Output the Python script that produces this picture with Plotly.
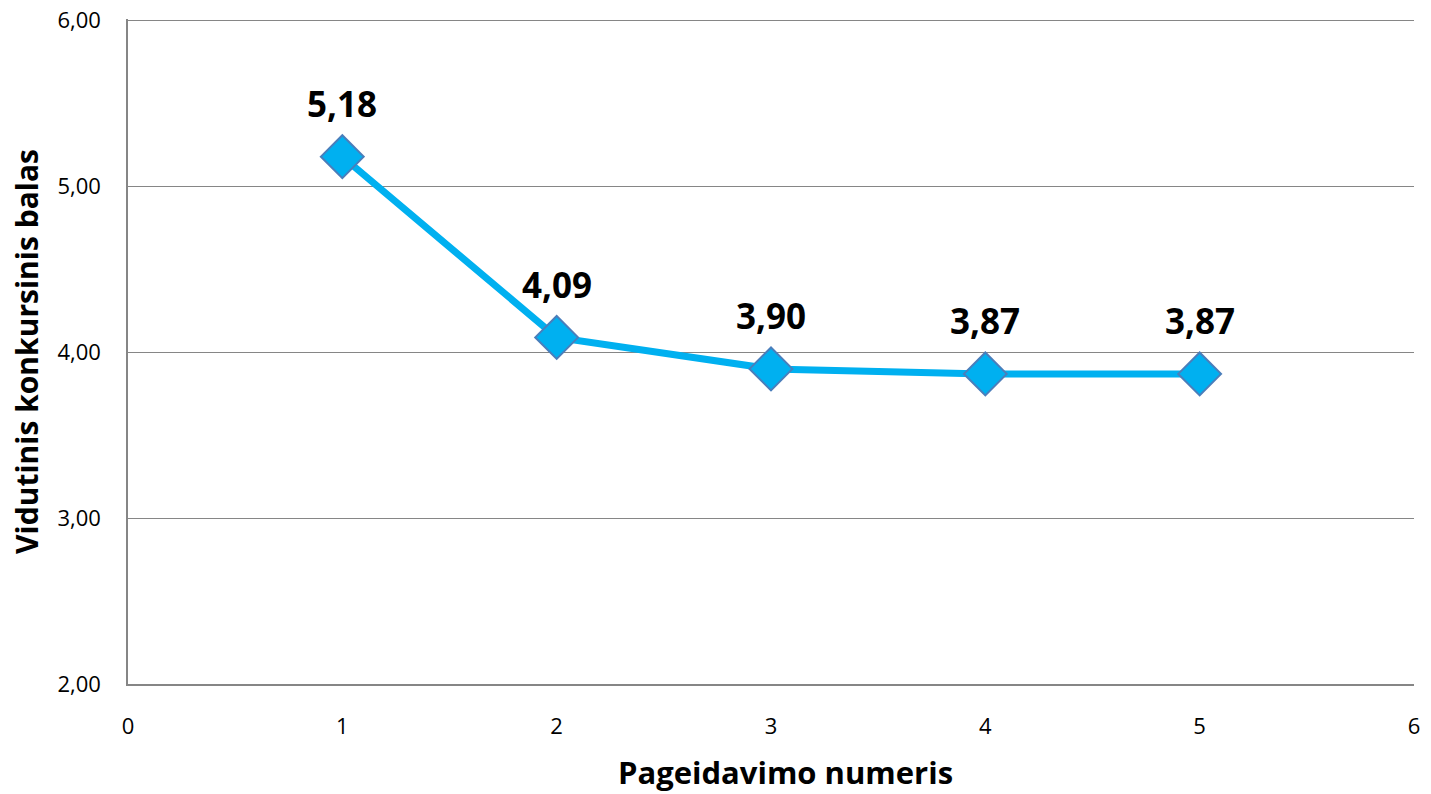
import plotly.graph_objects as go

x_vals = [1, 2, 3, 4, 5]
y_vals = [5.18, 4.09, 3.90, 3.87, 3.87]
labels = ["5,18", "4,09", "3,90", "3,87", "3,87"]
y_ticks = [2, 3, 4, 5, 6]
y_tick_text = ["2,00", "3,00", "4,00", "5,00", "6,00"]
x_ticks = [0, 1, 2, 3, 4, 5, 6]
x_title = "Pageidavimo numeris"
y_title = "Vidutinis konkursinis balas"

fig = go.Figure()
fig.add_trace(go.Scatter(
    x=x_vals, y=y_vals, mode="lines+markers",
    line=dict(color="#00B0F0", width=7),
    marker=dict(symbol="diamond", size=33, color="#00B0F0",
                line=dict(color="#4A7EBB", width=2)),
    cliponaxis=False, showlegend=False,
))

for xv, yv, lab in zip(x_vals, y_vals, labels):
    fig.add_annotation(x=xv, y=yv, text="<b>" + lab + "</b>", showarrow=False,
                       yanchor="middle", yshift=53,
                       font=dict(family="Open Sans", size=35, color="black"))

fig.add_annotation(xref="paper", yref="paper", x=0.511, y=0, text="<b>" + x_title + "</b>",
                   showarrow=False, yanchor="middle", yshift=-88,
                   font=dict(family="Open Sans", size=31, color="black"))

fig.update_layout(
    width=1431, height=794,
    margin=dict(l=128, r=17, t=19, b=110, autoexpand=False),
    plot_bgcolor="white", paper_bgcolor="white",
    font=dict(family="Open Sans", color="black"),
    xaxis=dict(range=[0, 6], tickvals=x_ticks, showgrid=False, automargin=False,
               showline=True, linecolor="#868686", linewidth=1.5,
               ticks="", tickfont=dict(size=22), zeroline=False,
               ticklabelstandoff=22),
    yaxis=dict(range=[2, 6.01], tickvals=y_ticks, ticktext=y_tick_text, automargin=False,
               showgrid=True, gridcolor="#868686", gridwidth=1,
               showline=True, linecolor="#868686", linewidth=1.5,
               ticks="", tickfont=dict(size=22), zeroline=False,
               ticklabelstandoff=21, ticklabeloverflow="allow",
               title=dict(text="<b>" + y_title + "</b>", font=dict(size=30), standoff=10)),
)

fig.write_html("out.html", config={"displayModeBar": False},
               post_script="document.body.style.margin='0';document.body.style.overflow='hidden';")
